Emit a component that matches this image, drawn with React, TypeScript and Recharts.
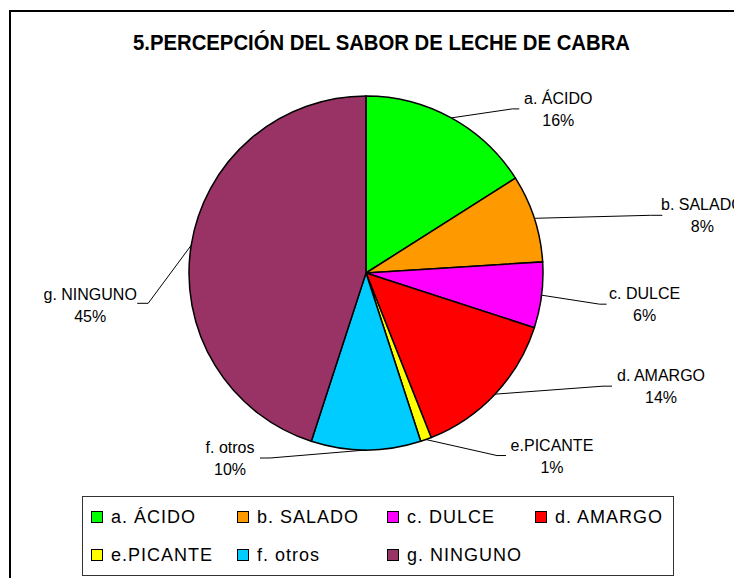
import React from 'react';
import { PieChart, Pie, Cell, Legend } from 'recharts';

// Category names, shares (%) and Excel-style colours
const categories = ['a. ÁCIDO', 'b. SALADO', 'c. DULCE', 'd. AMARGO', 'e.PICANTE', 'f. otros', 'g. NINGUNO'];
const shares = [16, 8, 6, 14, 1, 10, 45];
const colors = ['#00FF00', '#FF9900', '#FF00FF', '#FF0000', '#FFFF00', '#00CCFF', '#993366'];

const data = categories.map((name, i) => ({ name, value: shares[i] }));

// label placement relative to the point on the rim at the slice's mid angle
// ex/ey = elbow of the leader, tail = short horizontal end, tx/ty = centre of first text line
const labelSpots = [
  { ex: 61, ey: -9, tail: 7, tx: 107, ty: -20 },
  { ex: 116, ey: -3, tail: 12, tx: 168, ty: -14 },
  { ex: 58, ey: 9, tail: 7, tx: 103, ty: -2 },
  { ex: 108, ey: -8, tail: 9, tx: 166, ty: -19 },
  { ex: 71, ey: 16, tail: 9, tx: 126, ty: 5 },
  { ex: -96, ey: 8, tail: -10, tx: -136, ty: -3 },
  { ex: -43, ey: 58, tail: -11, tx: -101, ty: 49 },
];

// legend grid (left of each swatch inside the box, row centres)
const legendCols = [8, 154, 304, 452];
const legendRows = [20, 58];

const RADIAN = Math.PI / 180;
const FONT = '"Liberation Sans", Arial, sans-serif';

const renderLabel = (props: any) => {
  const { cx, cy, midAngle, outerRadius, index, percent } = props;
  const x0 = cx + outerRadius * Math.cos(-midAngle * RADIAN);
  const y0 = cy + outerRadius * Math.sin(-midAngle * RADIAN);
  const s = labelSpots[index];
  const ex = x0 + s.ex;
  const ey = y0 + s.ey;
  const tx = x0 + s.tx;
  const ty = y0 + s.ty;
  return (
    <g key={`lbl-${index}`}>
      <polyline
        points={`${x0},${y0} ${ex},${ey} ${ex + s.tail},${ey}`}
        fill="none"
        stroke="#000"
        strokeWidth={1}
      />
      <text x={tx} y={ty + 6} textAnchor="middle" fontSize={16} fontFamily={FONT} fill="#000">
        {categories[index]}
      </text>
      <text x={tx} y={ty + 28} textAnchor="middle" fontSize={16} fontFamily={FONT} fill="#000">
        {Math.round(percent * 100)}%
      </text>
    </g>
  );
};

const renderLegend = () => (
  <div
    style={{
      position: 'relative',
      width: 592,
      height: 80,
      border: '1px solid #333',
      boxSizing: 'border-box',
      background: '#fff',
      fontFamily: FONT,
    }}
  >
    {categories.map((name, i) => {
      const left = legendCols[i % 4];
      const top = legendRows[Math.floor(i / 4)];
      return (
        <div key={name} style={{ position: 'absolute', left, top: top - 11, height: 22, display: 'flex', alignItems: 'center', whiteSpace: 'nowrap' }}>
          <span style={{ width: 10, height: 10, border: '1px solid #000', background: colors[i], display: 'inline-block', marginRight: 8 }} />
          <span style={{ fontSize: 18, letterSpacing: 1, color: '#000', lineHeight: '22px' }}>{name}</span>
        </div>
      );
    })}
  </div>
);

const App: React.FC = () => {
  return (
    <div style={{ position: 'relative', width: 734, height: 570, overflow: 'hidden', background: '#fff' }}>
      {/* outer chart frame, runs off the right/bottom like the original */}
      <div style={{ position: 'absolute', left: 1, top: 2, width: 800, height: 800, border: '2px solid #000', boxSizing: 'border-box' }} />

      <svg width={734} height={60} style={{ position: 'absolute', left: 0, top: 0 }}>
        <text
          x={373.5}
          y={42}
          textAnchor="middle"
          fontSize={22}
          fontWeight="bold"
          fontFamily={FONT}
          textLength={497}
          lengthAdjust="spacingAndGlyphs"
          fill="#000"
        >
          5.PERCEPCIÓN DEL SABOR DE LECHE DE CABRA
        </text>
      </svg>

      <div style={{ position: 'absolute', left: 0, top: 0 }}>
        <PieChart width={734} height={570} margin={{ top: 0, right: 0, bottom: 0, left: 0 }}>
          <Pie
            data={data}
            dataKey="value"
            nameKey="name"
            cx={358}
            cy={265}
            outerRadius={177}
            startAngle={90}
            endAngle={-270}
            stroke="#000"
            strokeWidth={1.5}
            label={renderLabel}
            labelLine={false}
            isAnimationActive={false}
          >
            {data.map((d, i) => (
              <Cell key={d.name} fill={colors[i]} />
            ))}
          </Pie>
          <Legend
            content={renderLegend}
            wrapperStyle={{ position: 'absolute', left: 74, top: 488, width: 592, height: 80, bottom: 'auto' }}
          />
        </PieChart>
      </div>
    </div>
  );
};

export default App;
